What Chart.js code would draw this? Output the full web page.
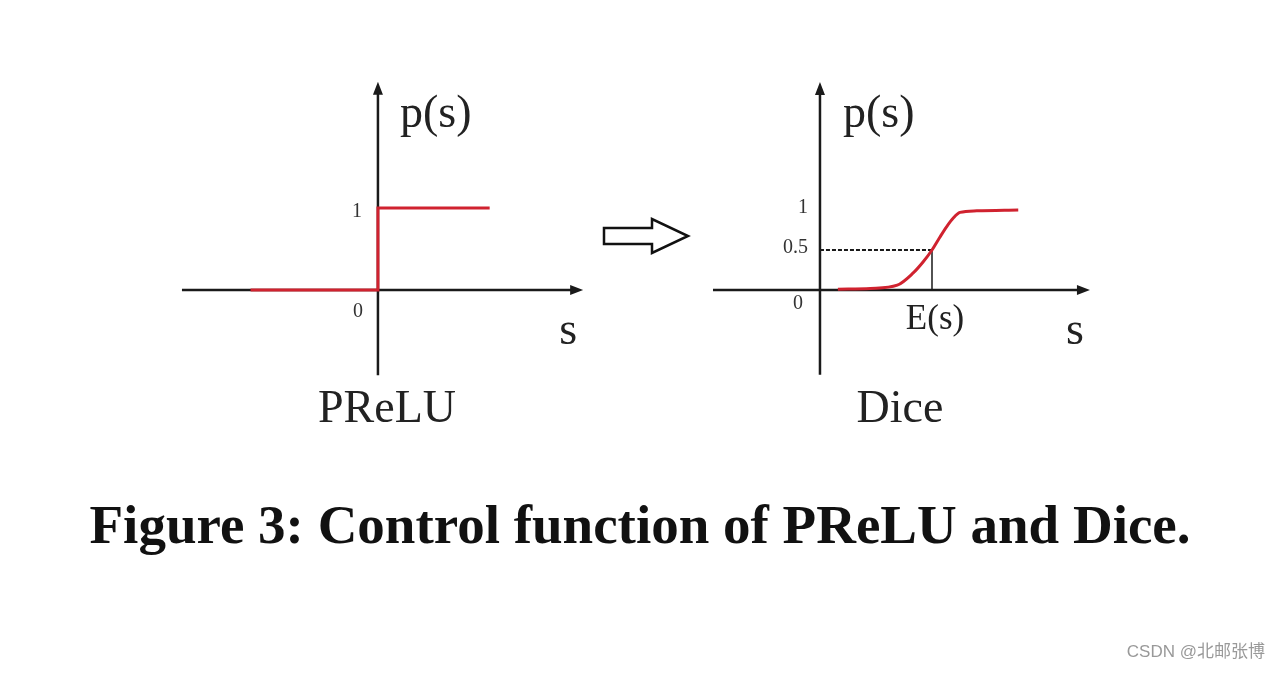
<!DOCTYPE html>
<html>
<head>
<meta charset="utf-8">
<script src="https://cdn.jsdelivr.net/npm/chart.js@4"></script>
<style>
  html, body { margin: 0; padding: 0; background: #fff; }
  body { width: 1280px; height: 673px; position: relative; overflow: hidden; }
  canvas { position: absolute; }
  #c-prelu { left: 170px; top: 60px; }
  #c-dice  { left: 700px; top: 60px; }
  .panel-name {
    position: absolute; font-family: "Liberation Serif", serif; font-size: 46px;
    color: #222; line-height: 1; text-align: center; width: 200px;
  }
  #caption {
    position: absolute; left: 0; width: 1280px; top: 497px; text-align: center;
    font-family: "Liberation Serif", serif; font-weight: bold; font-size: 55px;
    color: #111; line-height: 1;
  }
  #mark {
    position: absolute; right: 15px; top: 643px; font-size: 17px; color: #999;
    font-family: "Liberation Sans", "Noto Sans CJK SC", sans-serif; line-height: 1;
  }
  svg { position: absolute; left: 0; top: 0; }
</style>
</head>
<body>
<canvas id="c-prelu" width="430" height="330"></canvas>
<canvas id="c-dice" width="410" height="330"></canvas>

<!-- flèche creuse entre les deux schémas -->
<svg width="1280" height="673">
  <polygon points="604,228 652,228 652,219 688,236 652,253 652,244 604,244"
           fill="#fff" stroke="#111" stroke-width="2.5" stroke-linejoin="miter"/>
</svg>

<div class="panel-name" style="left:287px; top:384px;">PReLU</div>
<div class="panel-name" style="left:800px; top:384px;">Dice</div>
<div id="caption">Figure 3: Control function of PReLU and Dice.</div>
<div id="mark">CSDN @北邮张博</div>

<script>
// --- Données ---
// PReLU : marche en s = 0
const PRELU_S = [-0.65, 0, 0, 0.57];
const PRELU_P = [0, 0, 1, 1];
const PRELU_TICKS  = [0, 1];
const PRELU_LABELS = ['0', '1'];

// Dice : sigmoïde centrée sur E(s)
const DICE_S = [0.16, 0.45, 0.69, 0.83, 0.92, 1.0, 1.07, 1.13, 1.19, 1.25, 1.4, 1.77];
const DICE_P = [0.01, 0.02, 0.06, 0.21, 0.35, 0.5, 0.66, 0.79, 0.9, 0.97, 0.99, 1.0];
const DICE_TICKS  = [0, 0.5, 1];
const DICE_LABELS = ['0', '0.5', '1'];
const DICE_ES   = 1;    // position de E(s)
const DICE_HALF = 0.5;  // niveau p(s) = 0.5

const RED   = '#d0222f';
const BLACK = '#1a1a1a';
const SERIF = '"Liberation Serif", serif';

const toPoints = (xs, ys) => xs.map((x, i) => ({ x, y: ys[i] }));

// -------------------------------------------------------
// Axes fléchés + libellés, dessinés avec les échelles du graphique
// -------------------------------------------------------
function axesPlugin(cfg) {
  return {
    id: 'arrowAxes',
    beforeDatasetsDraw(chart) {
      const { ctx, scales: { x, y } } = chart;
      const x0 = x.getPixelForValue(0);
      const y0 = y.getPixelForValue(0);
      const xa = x.getPixelForValue(cfg.xFrom), xb = x.getPixelForValue(cfg.xTo);
      const ya = y.getPixelForValue(cfg.yFrom), yb = y.getPixelForValue(cfg.yTo);

      ctx.save();
      ctx.strokeStyle = BLACK;
      ctx.fillStyle = BLACK;
      ctx.lineWidth = 2.5;
      ctx.beginPath();
      ctx.moveTo(xa, y0); ctx.lineTo(xb - 6, y0);
      ctx.moveTo(x0, ya); ctx.lineTo(x0, yb + 6);
      ctx.stroke();
      // pointes
      ctx.beginPath();
      ctx.moveTo(xb, y0); ctx.lineTo(xb - 13, y0 - 5); ctx.lineTo(xb - 13, y0 + 5); ctx.closePath();
      ctx.moveTo(x0, yb); ctx.lineTo(x0 - 5, yb + 13); ctx.lineTo(x0 + 5, yb + 13); ctx.closePath();
      ctx.fill();

      // graduations de p(s)
      ctx.fillStyle = '#333';
      ctx.font = '20px ' + SERIF;
      ctx.textBaseline = 'middle';
      cfg.ticks.forEach((v, i) => {
        if (v === 0) {
          ctx.textAlign = 'center';
          ctx.fillText(cfg.labels[i], x0 - cfg.zeroDx, y0 + cfg.zeroDy);
        } else {
          ctx.textAlign = 'right';
          ctx.fillText(cfg.labels[i], x0 - cfg.tickGap, y.getPixelForValue(v) + cfg.tickDy);
        }
      });

      // noms des axes
      ctx.fillStyle = '#222';
      ctx.font = '46px ' + SERIF;
      ctx.textAlign = 'left';
      ctx.textBaseline = 'alphabetic';
      ctx.fillText('p(s)', x0 + cfg.pDx, yb + 45);
      ctx.textAlign = 'center';
      ctx.fillText('s', xb - 15, y0 + 54);
      if (cfg.es !== undefined) {
        ctx.font = '35px ' + SERIF;
        ctx.fillText('E(s)', x.getPixelForValue(cfg.es) + 3, y0 + 39);
      }
      ctx.restore();
    },
  };
}

function baseOptions(xMin, xMax, yMin, yMax) {
  return {
    responsive: false,
    animation: false,
    layout: { padding: 0 },
    plugins: { legend: { display: false }, tooltip: { enabled: false } },
    elements: { point: { radius: 0 } },
    scales: {
      x: { type: 'linear', display: false, min: xMin, max: xMax },
      y: { type: 'linear', display: false, min: yMin, max: yMax },
    },
  };
}

// -------------------------------------------------------
// Graphique 1 — PReLU
// -------------------------------------------------------
function renderPrelu() {
  new Chart(document.getElementById('c-prelu'), {
    type: 'line',
    data: {
      datasets: [{
        data: toPoints(PRELU_S, PRELU_P),
        borderColor: RED,
        borderWidth: 3,
        tension: 0,
      }],
    },
    options: baseOptions(-1.061, 1.133, -1.22, 2.805),
    plugins: [axesPlugin({
      xFrom: -1.0, xTo: 1.047, yFrom: -1.04, yTo: 2.54,
      ticks: PRELU_TICKS, labels: PRELU_LABELS,
      tickGap: 16, tickDy: 4, zeroDx: 20, zeroDy: 22, pDx: 22,
    })],
  });
}

// -------------------------------------------------------
// Graphique 2 — Dice
// -------------------------------------------------------
function renderDice() {
  new Chart(document.getElementById('c-dice'), {
    type: 'line',
    data: {
      datasets: [
        {
          data: toPoints(DICE_S, DICE_P),
          borderColor: RED,
          borderWidth: 3,
          cubicInterpolationMode: 'monotone',
        },
        {
          data: [{ x: 0, y: DICE_HALF }, { x: DICE_ES, y: DICE_HALF }],
          borderColor: BLACK,
          borderWidth: 2,
          borderDash: [4, 2],
        },
        {
          data: [{ x: DICE_ES, y: DICE_HALF }, { x: DICE_ES, y: 0 }],
          borderColor: BLACK,
          borderWidth: 1.5,
        },
      ],
    },
    options: baseOptions(-1.071, 2.589, -1.25, 2.875),
    plugins: [axesPlugin({
      xFrom: -0.955, xTo: 2.41, yFrom: -1.06, yTo: 2.6,
      ticks: DICE_TICKS, labels: DICE_LABELS, es: DICE_ES,
      tickGap: 12, tickDy: -2, zeroDx: 22, zeroDy: 14, pDx: 23,
    })],
  });
}

// --- Init ---
renderPrelu();
renderDice();
</script>
</body>
</html>
